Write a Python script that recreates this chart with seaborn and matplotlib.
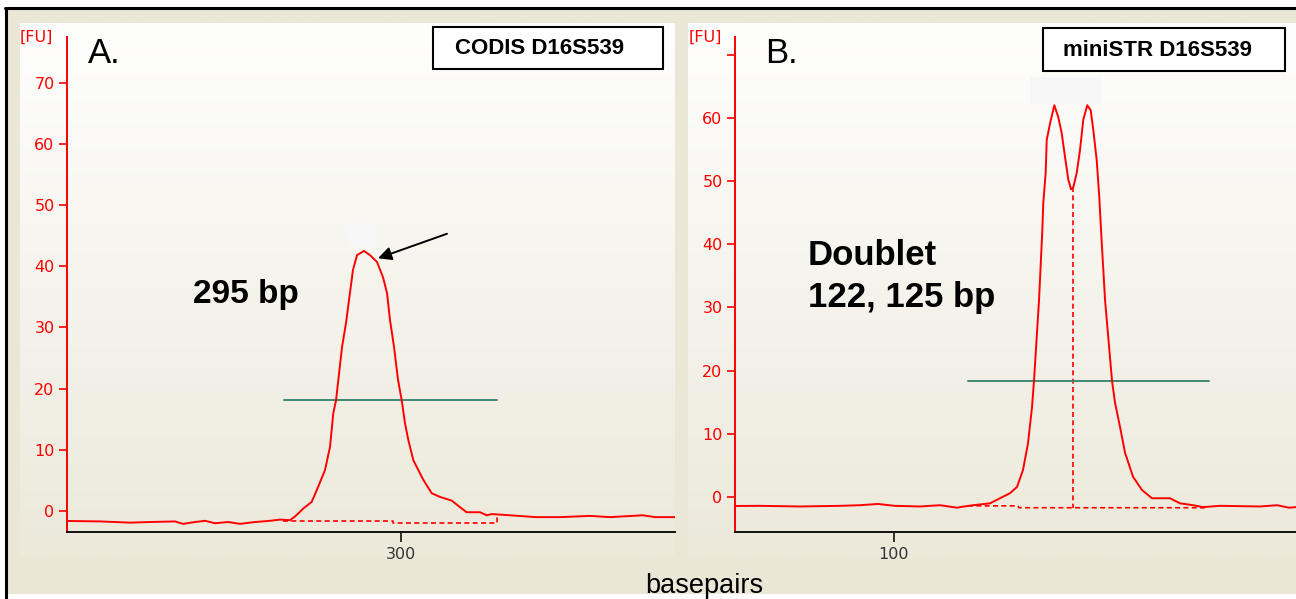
import numpy as np
import matplotlib
matplotlib.use("Agg")
import matplotlib.pyplot as plt
from matplotlib.patches import Rectangle
from matplotlib.lines import Line2D
import seaborn as sns

# ---------------- data ----------------
# Panel A: CODIS D16S539 (basepairs vs fluorescence units)
a_bp = [256.05, 260.39, 264.34, 266.97, 270.26, 271.32, 272.89, 274.21, 275.53, 277.24,
        278.82, 280.79, 282.76, 284.08, 285.39, 286.05, 287.14, 288.25, 288.91, 290.00,
        290.66, 291.09, 291.45, 292.24, 292.76, 293.16, 293.68, 294.21, 295.13, 295.92,
        296.84, 297.63, 298.16, 298.55, 299.08, 299.61, 300.09, 300.53, 300.96, 301.62,
        302.93, 304.04, 305.13, 306.67, 307.99, 308.64, 310.39, 311.28, 311.93, 314.34,
        317.76, 320.92, 324.87, 327.50, 331.84, 333.42, 336.05]
a_fu = [-1.63, -1.7, -1.9, -1.8, -1.7, -2.1, -1.8, -1.6, -2.0, -1.8,
        -2.1, -1.8, -1.6, -1.4, -1.5, -0.9, 0.4, 1.5, 3.4, 6.7,
        10.5, 16.0, 18.1, 26.8, 30.7, 34.5, 39.4, 41.8, 42.5, 41.8,
        40.7, 38.2, 35.6, 31.2, 26.8, 21.4, 18.1, 14.3, 11.6, 8.3,
        5.1, 2.9, 2.3, 1.7, 0.4, -0.2, -0.2, -0.7, -0.5, -0.7,
        -1.0, -1.0, -0.8, -1.0, -0.7, -1.0, -1.0]
a_base_bp = [284.5, 298.95, 298.95, 312.59, 312.59]
a_base_fu = [-1.6, -1.6, -1.9, -1.9, -0.65]
a_thresh_bp = [284.6, 312.6]
a_thresh_fu = [18.1, 18.1]

# Panel B: miniSTR D16S539
b_bp = [80.13, 83.25, 88.25, 93.25, 95.75, 98.0, 100.1, 103.25, 105.75, 107.9,
        108.25, 109.88, 112.0, 113.25, 114.5, 115.38, 116.13, 116.75, 117.25, 117.5,
        118.13, 118.54, 118.66, 118.96, 119.09, 119.5, 120.04, 120.54, 120.96, 121.38,
        121.79, 122.13, 122.41, 122.84, 123.25, 123.66, 124.16, 124.59, 124.91, 125.34,
        125.66, 125.88, 126.38, 127.25, 127.63, 128.25, 128.88, 129.88, 131.0, 132.25,
        134.5, 135.75, 137.38, 138.63, 140.75, 145.75, 147.88, 149.38, 150.25]
b_fu = [-1.42, -1.4, -1.5, -1.4, -1.3, -1.1, -1.4, -1.5, -1.3, -1.7,
        -1.6, -1.3, -1.0, -0.2, 0.6, 1.6, 4.3, 8.5, 14.2, 18.4,
        31.2, 42.2, 46.5, 51.3, 56.5, 59.1, 62.0, 60.1, 57.6, 53.8,
        50.2, 48.7, 49.0, 51.3, 54.9, 59.7, 62.0, 61.2, 58.1, 53.3,
        47.5, 42.2, 31.2, 18.4, 14.9, 11.1, 7.0, 3.2, 1.1, -0.2,
        -0.2, -1.0, -1.3, -1.6, -1.4, -1.5, -1.3, -1.7, -1.6]
b_base_bp = [109.25, 115.5, 115.6, 138.9]
b_base_fu = [-1.4, -1.4, -1.7, -1.7]
b_split_bp = [122.41, 122.41]
b_split_fu = [49.0, -1.7]
b_thresh_bp = [109.25, 139.4]
b_thresh_fu = [18.4, 18.4]

a_yticks = [0, 10, 20, 30, 40, 50, 60, 70]
a_ylabels = ["0", "10", "20", "30", "40", "50", "60", "70"]
b_yticks = [0, 10, 20, 30, 40, 50, 60, 70]
b_ylabels = ["0", "10", "20", "30", "40", "50", "60", ""]
a_xticks = [300]
b_xticks = [100]

# ---------------- style ----------------
sns.set_style("white")
plt.rcParams['font.family'] = ['Liberation Sans', 'DejaVu Sans']
plt.rcParams['text.color'] = 'black'

W, H = 1296, 599
fig = plt.figure(figsize=(W / 100, H / 100), dpi=100, facecolor='white')


def fr(x0, y0, x1, y1):
    return [x0 / W, 1 - y1 / H, (x1 - x0) / W, (y1 - y0) / H]


RED = '#FF0000'
GREEN = '#3F8A70'

# window frame
fig.patches.append(Rectangle((5 / W, 1 - 594 / H), (W - 5) / W, (594 - 8) / H,
                             transform=fig.transFigure, facecolor='#EAE7D7',
                             edgecolor='none', zorder=-5))
fig.add_artist(Line2D([6 / W, 6 / W], [0, 1 - 8 / H], transform=fig.transFigure,
                      color='black', lw=2.2, zorder=10))
fig.add_artist(Line2D([5 / W, 1], [1 - 8 / H, 1 - 8 / H], transform=fig.transFigure,
                      color='black', lw=2.2, zorder=10))

# gradient plot areas
top = np.array([0xFE, 0xFE, 0xFD]) / 255
bot = np.array([0xEC, 0xE9, 0xDB]) / 255
t = np.linspace(0, 1, 256)[:, None, None]
grad = top * (1 - t) + bot * t
for box in [(20, 23, 675, 556), (688, 23, 1296, 556)]:
    bg = fig.add_axes(fr(*box))
    bg.imshow(grad, aspect='auto', interpolation='bilinear')
    bg.axis('off')
    bg.set_zorder(0)

axA = fig.add_axes(fr(67, 37, 675, 532))
axB = fig.add_axes(fr(735, 37, 1296, 532))

panels = [
    (axA, a_bp, a_fu, (256.05, 336.05), (-3.43, 77.45), a_yticks, a_ylabels, a_xticks),
    (axB, b_bp, b_fu, (80.125, 150.25), (-5.54, 72.8), b_yticks, b_ylabels, b_xticks),
]
for ax, xs, ys, xl, yl, yt, ylab, xt in panels:
    ax.set_zorder(1)
    ax.set_facecolor('none')
    ax.patch.set_alpha(0)
    sns.lineplot(x=xs, y=ys, ax=ax, color=RED, linewidth=1.4, estimator=None,
                 sort=False, zorder=4)
    ax.set_xlim(*xl)
    ax.set_ylim(*yl)
    ax.set_yticks(yt)
    ax.set_yticklabels(ylab)
    ax.set_xticks(xt)
    ax.set_xticklabels([str(v) for v in xt])
    for s in ['top', 'right']:
        ax.spines[s].set_visible(False)
    ax.spines['left'].set_color(RED)
    ax.spines['left'].set_linewidth(1.4)
    ax.spines['bottom'].set_color('#111111')
    ax.spines['bottom'].set_linewidth(1.4)
    ax.tick_params(axis='y', colors=RED, labelcolor=RED, labelsize=11.5, length=6,
                   width=1.2, direction='out', pad=3, labelfontfamily='DejaVu Sans', left=True)
    ax.tick_params(axis='x', colors='#111111', labelcolor='#333333', labelsize=11.5,
                   length=7, width=1.2, direction='out', pad=4,
                   labelfontfamily='DejaVu Sans', bottom=True)
    ax.set_xlabel('')
    ax.set_ylabel('')
    ax.grid(False)

# Panel A annotations
axA.plot(a_base_bp, a_base_fu, color=RED, lw=1.2, ls=(0, (3, 2)), zorder=3)
axA.plot(a_thresh_bp, a_thresh_fu, color=GREEN, lw=1.4, zorder=3)
axA.add_patch(Rectangle((293.0, 43.1), 3.8, 4.0, facecolor='#F6F6F6', edgecolor='none', zorder=2))
axA.annotate('', xy=(296.97, 41.3), xytext=(306.05, 45.3),
             arrowprops=dict(arrowstyle='-|>', color='black', lw=1.4, mutation_scale=20,
                             shrinkA=0, shrinkB=0), zorder=5)

# Panel B annotations
axB.plot(b_base_bp, b_base_fu, color=RED, lw=1.2, ls=(0, (3, 2)), zorder=3)
axB.plot(b_split_bp, b_split_fu, color=RED, lw=1.2, ls=(0, (3, 2)), zorder=3)
axB.plot(b_thresh_bp, b_thresh_fu, color=GREEN, lw=1.4, zorder=3)
axB.add_patch(Rectangle((117.0, 62.2), 8.9, 4.3, facecolor='#F6F6F6', edgecolor='none', zorder=2))


def ftext(x, y, s, **kw):
    kw.setdefault('color', 'black')
    fig.text(x / W, 1 - y / H, s, **kw)


# [FU] labels
ftext(53, 37, '[FU]', color=RED, fontsize=11.5, ha='right', va='center', family='DejaVu Sans')
ftext(722, 37, '[FU]', color=RED, fontsize=11.5, ha='right', va='center', family='DejaVu Sans')

# panel letters
ftext(88, 63, 'A.', fontsize=25, ha='left', va='baseline')
ftext(765, 63, 'B.', fontsize=25, ha='left', va='baseline')

# title boxes
for (x0, y0, x1, y1), s, tx in [((433, 27, 663, 69), 'CODIS D16S539', 455),
                                ((1043, 28, 1285, 71), 'miniSTR D16S539', 1063)]:
    fig.patches.append(Rectangle((x0 / W, 1 - y1 / H), (x1 - x0) / W, (y1 - y0) / H,
                                 transform=fig.transFigure, facecolor='white',
                                 edgecolor='black', lw=1.5, zorder=5))
    ftext(tx, (y0 + y1) / 2 + 1, s, fontsize=16, fontweight='bold', ha='left',
          va='center', zorder=6)

# annotation texts
ftext(193, 303, '295 bp', fontsize=24, fontweight='bold', ha='left', va='baseline')
ftext(808, 265, 'Doublet', fontsize=25, fontweight='bold', ha='left', va='baseline')
ftext(808, 307, '122, 125 bp', fontsize=25, fontweight='bold', ha='left', va='baseline')

# shared x label
ftext(704, 593, 'basepairs', fontsize=19.5, ha='center', va='baseline')

fig.savefig('out.png', dpi=100, facecolor='white')
